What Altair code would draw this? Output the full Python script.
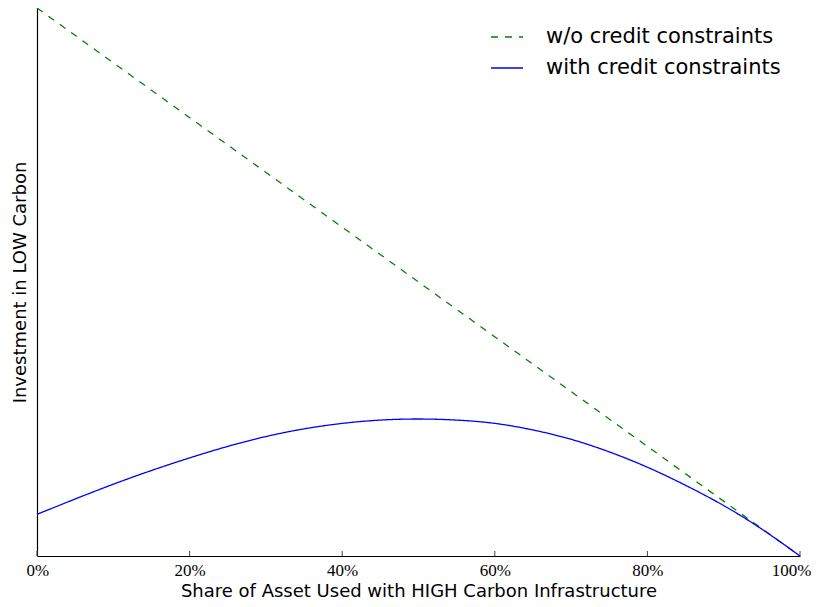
import altair as alt
import pandas as pd

# Shares of asset used with HIGH carbon infrastructure (x) and investment in LOW carbon (y, relative units)
share_x = [0.0, 0.05, 0.10, 0.15, 0.20, 0.25, 0.30, 0.35, 0.40, 0.45, 0.50,
           0.55, 0.60, 0.65, 0.70, 0.75, 0.80, 0.85, 0.90, 0.95, 1.0]
with_constraints = [0.076, 0.104, 0.131, 0.156, 0.179, 0.200, 0.218, 0.232, 0.242, 0.248, 0.250,
                    0.248, 0.242, 0.230, 0.213, 0.190, 0.162, 0.129, 0.092, 0.049, 0.0]
without_x = [0.0, 1.0]
without_constraints = [1.0, 0.0]

series_names = ["w/o credit constraints", "with credit constraints"]
series_colors = ["#008000", "#0000ff"]
tick_values = [0.0, 0.2, 0.4, 0.6, 0.8, 1.0]

df = pd.concat([
    pd.DataFrame({"x": without_x, "y": without_constraints, "series": series_names[0], "order": [0, 1]}),
    pd.DataFrame({"x": share_x, "y": with_constraints, "series": series_names[1], "order": list(range(len(share_x)))}),
])
ticks_df = pd.DataFrame({"x": tick_values})

x_scale = alt.Scale(domain=[0, 1], nice=False, zero=False)
y_scale = alt.Scale(domain=[0, 1], nice=False)

legend_cfg = dict(title=None, orient="none", legendX=453, legendY=12,
                  symbolType="stroke", symbolSize=1024, symbolStrokeWidth=1.3,
                  labelFont="DejaVu Sans", labelFontSize=21, labelColor="#000000",
                  labelOffset=22, rowPadding=4, labelLimit=400)

lines = alt.Chart(df).mark_line(strokeWidth=1.3, interpolate="natural").encode(
    x=alt.X("x:Q", scale=x_scale,
            axis=alt.Axis(title="Share of Asset Used with HIGH Carbon Infrastructure",
                          values=tick_values, format=".0%", ticks=False, grid=False,
                          labelFlush=1, labelFlushOffset=11,
                          labelFont="Liberation Serif", labelFontSize=17,
                          labelColor="#000000", labelPadding=6,
                          titleFont="DejaVu Sans", titleFontSize=18, titleFontWeight="normal",
                          titleColor="#000000", titlePadding=4,
                          domainColor="#000000", domainWidth=1.2)),
    y=alt.Y("y:Q", scale=y_scale,
            axis=alt.Axis(title="Investment in LOW Carbon", ticks=False, labels=False, grid=False,
                          titleFont="DejaVu Sans", titleFontSize=18, titleFontWeight="normal",
                          titleColor="#000000", titlePadding=8,
                          domainColor="#000000", domainWidth=1.2)),
    color=alt.Color("series:N", scale=alt.Scale(domain=series_names, range=series_colors),
                    legend=alt.Legend(**legend_cfg)),
    strokeDash=alt.StrokeDash("series:N", scale=alt.Scale(domain=series_names, range=[[7, 7], [1, 0]]),
                              legend=alt.Legend(**legend_cfg)),
    order="order:Q",
)

ticks = alt.Chart(ticks_df).mark_rule(color="#444444", strokeWidth=1).encode(
    x=alt.X("x:Q", scale=x_scale),
    y=alt.value(548),
    y2=alt.value(543),
)

chart = alt.layer(lines, ticks).properties(
    width=763, height=548,
    padding={"left": 29, "top": 0, "right": 12, "bottom": 43},
    autosize=alt.AutoSizeParams(type="none"),
).configure_view(strokeWidth=0)

chart.save("out.html", embed_options={"renderer": "svg", "actions": False})
